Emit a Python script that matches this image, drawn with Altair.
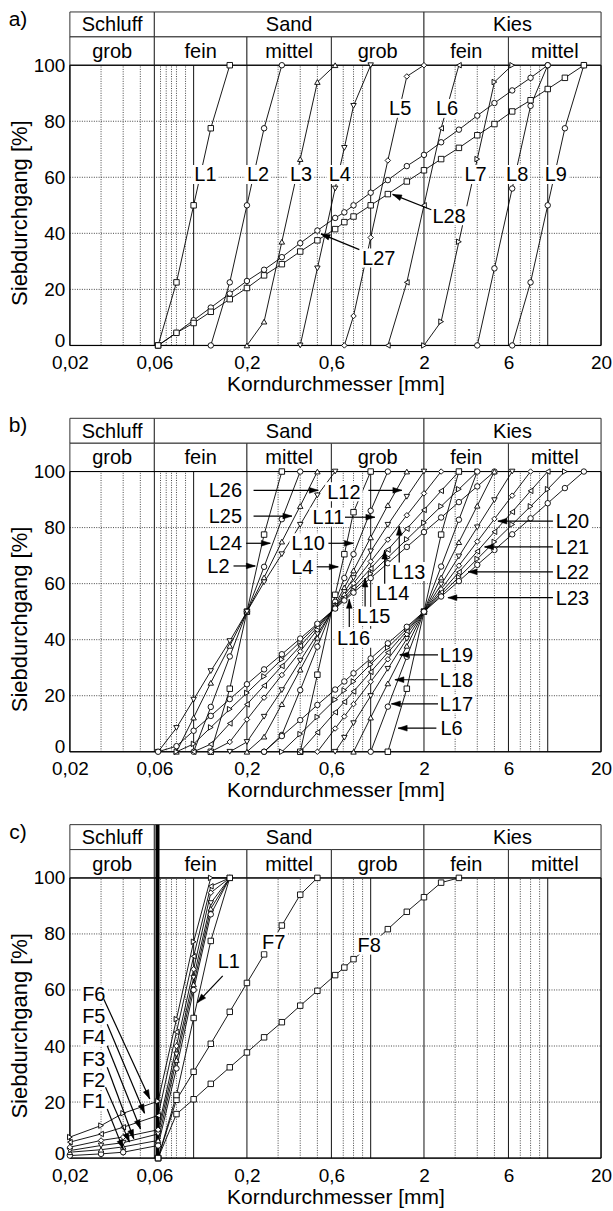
import math
import altair as alt
import pandas as pd

FONT = "Liberation Sans"
W = 532
H = 334
YTOP = 119.0
ROW_SPLIT = 110.1
PX_DEC = W / 3.0
PX_UNIT = H / YTOP

# ---------------- axes / grid ----------------
X_TICKS = [0.02, 0.06, 0.2, 0.6, 2, 6, 20]
Y_TICKS = [0, 20, 40, 60, 80, 100]
GRID_DOTTED = [0.03, 0.04, 0.05, 0.065, 0.07, 0.075, 0.08, 0.09, 0.3, 0.4, 0.5,
               0.7, 0.8, 0.9, 3, 4, 5, 7, 8, 9]
GRID_SOLID = [0.06, 0.1, 0.2, 0.6, 1, 2, 6, 10]
H_GRID = [20, 40, 60, 80]
MAIN_BOUNDS = [0.02, 0.06, 2, 20]
MAIN_NAMES = ["Schluff", "Sand", "Kies"]
SUB_BOUNDS = [0.02, 0.06, 0.2, 0.6, 2, 6, 20]
SUB_NAMES = ["grob", "fein", "mittel", "grob", "fein", "mittel"]

# ---------------- panel a ----------------
A_L1_D = [0.063, 0.08, 0.1, 0.125, 0.16]
A_L1_V = [0, 22.5, 50, 77.5, 100]
A_L2_D = [0.125, 0.16, 0.2, 0.25, 0.315]
A_L2_V = [0, 22.5, 50, 77.5, 100]
A_L3_D = [0.2, 0.25, 0.315, 0.4, 0.5, 0.63]
A_L3_V = [0, 8.5, 37, 66.5, 94, 100]
A_L4_D = [0.4, 0.5, 0.63, 0.71, 0.8, 1.0]
A_L4_V = [0, 27.5, 56, 70.5, 85.5, 100]
A_L5_D = [0.71, 0.8, 1, 1.25, 1.6, 2]
A_L5_V = [0, 10.5, 38.5, 66, 96, 100]
A_L6_D = [1.25, 1.6, 2, 2.5, 3.15]
A_L6_V = [0, 22.5, 50, 77.5, 100]
A_L7_D = [2, 2.5, 3.15, 4, 5, 6.3]
A_L7_V = [0, 8.5, 37, 66.5, 94, 100]
A_L8_D = [4, 5, 6.3, 8, 10]
A_L8_V = [0, 27.5, 56, 85.5, 100]
A_L9_D = [6.3, 8, 10, 12.5, 16]
A_L9_V = [0, 22.5, 50, 77.5, 100]
A_L27_D = [0.063, 0.08, 0.1, 0.125, 0.16, 0.2, 0.25, 0.315, 0.4, 0.5, 0.63, 0.71, 0.8,
           1, 1.25, 1.6, 2, 2.5, 3.15, 4, 5, 6.3, 8, 10]
A_L27_V = [0, 4.5, 9, 13.5, 18.5, 23, 27, 31.5, 36.5, 41, 45.5, 47.5, 50,
           54.5, 59, 64, 68, 72.5, 77, 82, 86.5, 91, 95.5, 100]
A_L28_D = [0.063, 0.08, 0.1, 0.125, 0.16, 0.2, 0.25, 0.315, 0.4, 0.5, 0.63, 0.71, 0.8,
           1, 1.25, 1.6, 2, 2.5, 3.15, 4, 5, 6.3, 8, 10, 12.5, 16]
A_L28_V = [0, 4.5, 8, 12, 16.5, 20.5, 25, 29, 33.5, 37.5, 41.5, 44, 46,
           50, 54, 58.5, 62.5, 66.5, 70.5, 75, 79, 83.5, 87.5, 91.5, 95.5, 100]

A_LAB_T = ["L1", "L2", "L3", "L4", "L5", "L6", "L7", "L8", "L9", "L28", "L27"]
A_LAB_D = [0.1165, 0.231, 0.404, 0.669, 1.468, 2.70, 3.91, 6.72, 11.1, 2.77, 1.11]
A_LAB_V = [61, 61, 61, 61, 84.6, 84.6, 61, 61, 61, 46.3, 31.2]
A_ARR_D0 = [2.2, 0.863]
A_ARR_V0 = [48.4, 34.2]
A_ARR_D1 = [1.33, 0.524]
A_ARR_V1 = [53.9, 39.8]

# ---------------- panel b ----------------
B_L2_D = [0.125, 0.16, 0.2, 0.25, 0.315]
B_L2_V = [0, 22.5, 50, 77.5, 100]
B_L24_D = [0.1, 0.125, 0.16, 0.2, 0.25, 0.315, 0.4]
B_L24_V = [0, 16, 34, 50, 66, 83, 100]
B_L25_D = [0.08, 0.1, 0.125, 0.16, 0.2, 0.25, 0.315, 0.4, 0.5]
B_L25_V = [0, 12.2, 24.6, 37.8, 50, 62.2, 75, 87.7, 100]
B_L26_D = [0.063, 0.08, 0.1, 0.125, 0.16, 0.2, 0.25, 0.315, 0.4, 0.5, 0.63]
B_L26_V = [0, 8.5, 18.6, 28.8, 39.5, 50, 60.5, 70.5, 81, 91.5, 100]

B_L4_D = [0.4, 0.5, 0.63, 0.71, 0.8, 1.0]
B_L4_V = [0, 27.5, 56, 70.5, 85.5, 100]
B_L10_D = [0.25, 0.315, 0.4, 0.5, 0.63, 0.71, 0.8, 1, 1.25]
B_L10_V = [0, 6, 22, 37.5, 53.5, 62, 70.5, 86, 100]
B_L11_D = [0.2, 0.25, 0.315, 0.4, 0.5, 0.63, 0.71, 0.8, 1, 1.25, 1.6]
B_L11_V = [0, 5.4, 17, 29.3, 40.7, 52.5, 58.6, 64.7, 76.5, 88, 100]
B_L12_D = [0.16, 0.2, 0.25, 0.315, 0.4, 0.5, 0.63, 0.71, 0.8, 1, 1.25, 1.6, 2]
B_L12_V = [0, 3.5, 12.5, 22, 32.5, 42, 52, 57, 62, 71.5, 81, 91, 100]
B_L13_D = [0.125, 0.16, 0.2, 0.25, 0.315, 0.4, 0.5, 0.63, 0.71, 0.8, 1, 1.25, 1.6, 2, 2.5]
B_L13_V = [0, 3.5, 11.5, 19.3, 27.4, 35.8, 43.6, 51.7, 55.9, 60.1, 67.9, 75.7, 84.4, 92.2,
           100]
B_L14_D = [0.1, 0.125, 0.16, 0.2, 0.25, 0.315, 0.4, 0.5, 0.63, 0.71, 0.8, 1, 1.25, 1.6,
           2, 2.5, 3.15]
B_L14_V = [0, 2.7, 10.1, 16.9, 23.6, 30.6, 37.8, 44.5, 51.5, 55.1, 58.7, 65.4, 72.1, 79.6,
           86.3, 93.1, 100]
B_L15_D = [0.08, 0.1, 0.125, 0.16, 0.2, 0.25, 0.315, 0.4, 0.5, 0.63, 0.71, 0.8, 1, 1.25,
           1.6, 2, 2.5, 3.15, 4]
B_L15_V = [0, 2.8, 8.7, 15.2, 21, 26.9, 33, 39.3, 45.2, 51.3, 54.4, 57.6, 63.5, 69.3,
           75.8, 81.7, 87.6, 93.7, 100]
B_L16_D = [0.063, 0.08, 0.1, 0.125, 0.16, 0.2, 0.25, 0.315, 0.4, 0.5, 0.63, 0.71, 0.8,
           1, 1.25, 1.6, 2, 2.5, 3.15, 4, 5]
B_L16_V = [0, 2, 7.5, 12.8, 18.8, 24.1, 29.4, 34.8, 40.4, 45.7, 51.1, 54, 56.8,
           62, 67.3, 73.1, 78.4, 83.6, 89.1, 94.7, 100]

B_L6_D = [1.25, 1.6, 2, 2.5, 3.15]
B_L6_V = [0, 22.5, 50, 77.5, 100]
B_L17_D = [1, 1.25, 1.6, 2, 2.5, 3.15, 4]
B_L17_V = [0, 16.1, 33.9, 50, 66.1, 82.8, 100]
B_L18_D = [0.8, 1, 1.25, 1.6, 2, 2.5, 3.15, 4, 5]
B_L18_V = [0, 12.2, 24.4, 37.8, 50, 62.2, 74.8, 87.8, 100]
B_L19_D = [0.63, 0.71, 0.8, 1, 1.25, 1.6, 2, 2.5, 3.15, 4, 5, 6.3]
B_L19_V = [0, 5, 10.2, 19.9, 29.6, 40.3, 50, 59.7, 69.7, 80.1, 89.8, 100]
B_L20_D = [0.5, 0.63, 0.71, 0.8, 1, 1.25, 1.6, 2, 2.5, 3.15, 4, 5, 6.3, 8]
B_L20_V = [0, 8.3, 12.6, 17, 25, 33, 42, 50, 58, 66.4, 75, 83.1, 91.4, 100]
B_L21_D = [0.4, 0.5, 0.63, 0.71, 0.8, 1, 1.25, 1.6, 2, 2.5, 3.15, 4, 5, 6.3, 8, 10]
B_L21_V = [0, 6.9, 14.1, 17.8, 21.5, 28.5, 35.4, 43.1, 50, 56.9, 64.1, 71.5, 78.5, 85.6,
           93.1, 100]
B_L22_D = [0.315, 0.4, 0.5, 0.63, 0.71, 0.8, 1, 1.25, 1.6, 2, 2.5, 3.15, 4, 5, 6.3, 8,
           10, 12.5]
B_L22_V = [0, 6.3, 12.4, 18.6, 21.9, 25.1, 31.2, 37.2, 43.9, 50, 56.1, 62.3, 68.8, 74.9,
           81.1, 87.6, 93.7, 100]
B_L23_D = [0.25, 0.315, 0.4, 0.5, 0.63, 0.71, 0.8, 1, 1.25, 1.6, 2, 2.5, 3.15, 4, 5,
           6.3, 8, 10, 12.5, 16]
B_L23_V = [0, 5.6, 11.3, 16.7, 22.2, 25.1, 28, 33.3, 38.7, 44.6, 50, 55.4, 60.9, 66.7,
           72, 77.6, 83.3, 88.7, 94.1, 100]

B_LAB_T = ["L26", "L25", "L24", "L2", "L12", "L11", "L10", "L4", "L13", "L14", "L15",
           "L16", "L20", "L21", "L22", "L23", "L19", "L18", "L17", "L6"]
B_LAB_D = [0.151, 0.151, 0.151, 0.138, 0.706, 0.577, 0.444, 0.411, 1.64, 1.33, 1.04,
           0.8, 13.8, 13.8, 13.8, 13.8, 3.05, 3.05, 3.05, 2.86]
B_LAB_V = [93.3, 84.1, 74.6, 66.3, 92.8, 83.7, 74.6, 66, 64.3, 56.8, 48.3,
           40.5, 82.3, 73.1, 64.2, 55, 34.6, 25.7, 17.1, 8.4]
B_ARR_D0 = [0.218, 0.218, 0.198, 0.168, 0.97, 0.716, 0.577, 0.496, 1.45, 1.2, 0.93,
            0.757, 10.7, 10.7, 10.7, 10.7, 2.40, 2.40, 2.40, 2.35]
B_ARR_V0 = [93.3, 84.1, 74.4, 66.3, 93.3, 83.7, 74.4, 66, 67.5, 60, 51.8, 44.5,
            82.3, 73.1, 64.2, 55, 34.6, 25.7, 17.1, 8.4]
B_ARR_D1 = [0.506, 0.359, 0.271, 0.223, 1.5, 1.056, 0.798, 0.656, 1.45, 1.2, 0.93,
            0.757, 5.23, 4.4, 3.55, 2.73, 1.46, 1.37, 1.31, 1.43]
B_ARR_V1 = [93.3, 84.1, 74.4, 66.3, 93.3, 83.7, 74.4, 66, 80.5, 72, 62, 54.4,
            82.3, 73.1, 64.2, 55, 34.6, 25.7, 17.1, 8.4]

# ---------------- panel c ----------------
C_F1_D = [0.02, 0.03, 0.04, 0.063, 0.08, 0.1, 0.125, 0.16]
C_F1_V = [0.9, 1.5, 2.1, 4.5, 32, 60, 87, 100]
C_F2_D = [0.02, 0.03, 0.04, 0.063, 0.08, 0.1, 0.125, 0.16]
C_F2_V = [2.1, 3, 4, 6.3, 35, 62, 89, 100]
C_F3_D = [0.02, 0.03, 0.04, 0.063, 0.08, 0.1, 0.125, 0.16]
C_F3_V = [2.7, 4.5, 5.5, 8.6, 37, 64.4, 91, 100]
C_F4_D = [0.02, 0.03, 0.04, 0.063, 0.08, 0.1, 0.125, 0.16]
C_F4_V = [3.9, 6.3, 7.5, 10.1, 40, 67.4, 94.7, 100]
C_F5_D = [0.02, 0.03, 0.04, 0.063, 0.08, 0.1, 0.125, 0.16]
C_F5_V = [5.7, 8.6, 11, 15.2, 45, 72, 97, 100]
C_F6_D = [0.02, 0.03, 0.04, 0.063, 0.08, 0.1, 0.125, 0.16]
C_F6_V = [7.5, 11.6, 16, 20.3, 49.6, 77.2, 100, 100]
C_F7_D = [0.063, 0.08, 0.1, 0.125, 0.16, 0.2, 0.25, 0.315, 0.4, 0.5]
C_F7_V = [0, 20.8, 30.8, 40.8, 52.2, 62.5, 72.7, 83, 94, 100]
C_F8_D = [0.063, 0.08, 0.1, 0.125, 0.16, 0.2, 0.25, 0.315, 0.4, 0.5, 0.63, 0.71, 0.8,
          1, 1.25, 1.6, 2, 2.5, 3.15]
C_F8_V = [0, 15.7, 21, 26.5, 32.4, 37.7, 43.1, 48.5, 54.4, 59.7, 65.3, 68, 71,
          76, 81.7, 87.9, 93.1, 98.3, 100]
C_L1_D = [0.063, 0.08, 0.1, 0.125, 0.16]
C_L1_V = [0, 22.5, 50, 77.5, 100]

C_LAB_T = ["F6", "F5", "F4", "F3", "F2", "F1", "L1", "F7", "F8"]
C_LAB_D = [0.0273, 0.0273, 0.0273, 0.0273, 0.0273, 0.0273, 0.158, 0.283, 0.98]
C_LAB_V = [58.5, 50.8, 43.1, 35.3, 27.9, 20.3, 70.4, 77.2, 76]
C_ARR_D0 = [0.0311, 0.0325, 0.0325, 0.0325, 0.0318, 0.0325, 0.146]
C_ARR_V0 = [56.7, 47.8, 40.1, 32.4, 25.3, 17.5, 65]
C_ARR_D1 = [0.0565, 0.0528, 0.0501, 0.0459, 0.0434, 0.040, 0.105]
C_ARR_V1 = [21.1, 16, 10.4, 6.9, 5.7, 3.3, 55.5]
C_THICK = [0.0625]

# ---------------- helpers ----------------
xs = alt.Scale(type="log", domain=[0.02, 20], nice=False)
ys = alt.Scale(domain=[0, YTOP], nice=False, zero=False)

X_AXIS = alt.Axis(values=X_TICKS, labelExpr="replace(format(datum.value, '~g'), '.', ',')",
                  title="Korndurchmesser [mm]", grid=False, ticks=False, tickSize=0,
                  domain=False, labelFont=FONT, labelFontSize=19, labelPadding=8,
                  labelColor="black", labelFlush=False, labelOverlap=False,
                  titleFont=FONT, titleFontSize=21, titleFontWeight="normal",
                  titleColor="black", titlePadding=1)
Y_AXIS = alt.Axis(values=Y_TICKS, title="Siebdurchgang [%]", grid=False, ticks=False,
                  tickSize=0, domain=False, labelFont=FONT, labelFontSize=19,
                  labelPadding=5, labelColor="black", labelOverlap=False,
                  labelOffset={"condition": {"test": "datum.value === 0", "value": -5},
                               "value": 0},
                  titleFont=FONT, titleFontSize=22, titleFontWeight="normal",
                  titleColor="black", titleX=-50, titleY=201, titleBaseline="middle")


def X(f):
    return alt.X(f, scale=xs, axis=X_AXIS)


def Y(f):
    return alt.Y(f, scale=ys, axis=Y_AXIS)


def grid_layers():
    dots = pd.DataFrame({"d": GRID_DOTTED, "y0": 0, "y1": 100})
    solid = pd.DataFrame({"d": GRID_SOLID, "y0": 0, "y1": 100})
    hg = pd.DataFrame({"v": H_GRID, "x0": 0.02, "x1": 20})
    l1 = alt.Chart(dots).mark_rule(color="#333", strokeWidth=0.9, strokeDash=[1, 1.4]).encode(
        x=X("d:Q"), y=Y("y0:Q"), y2="y1:Q")
    l2 = alt.Chart(solid).mark_rule(color="#111", strokeWidth=1).encode(
        x=X("d:Q"), y=Y("y0:Q"), y2="y1:Q")
    l3 = alt.Chart(hg).mark_rule(color="#333", strokeWidth=0.9, strokeDash=[1, 1.4]).encode(
        x=X("x0:Q"), x2="x1:Q", y=Y("v:Q"))
    return [l1, l2, l3]


def frame_layer():
    df = pd.DataFrame({"x": [0.02], "x2": [20], "y": [0], "y2": [100]})
    return alt.Chart(df).mark_rect(fill="transparent", stroke="black", strokeWidth=1).encode(
        x=X("x:Q"), x2="x2:Q", y=Y("y:Q"), y2="y2:Q")


def header_layers():
    rows = []
    for i, n in enumerate(MAIN_NAMES):
        a, b = MAIN_BOUNDS[i], MAIN_BOUNDS[i + 1]
        rows.append({"a": a, "b": b, "y0": ROW_SPLIT, "y1": YTOP, "t": n,
                     "m": math.sqrt(a * b), "ym": (ROW_SPLIT + YTOP) / 2})
    for i, n in enumerate(SUB_NAMES):
        a, b = SUB_BOUNDS[i], SUB_BOUNDS[i + 1]
        rows.append({"a": a, "b": b, "y0": 100, "y1": ROW_SPLIT, "t": n,
                     "m": math.sqrt(a * b), "ym": (100 + ROW_SPLIT) / 2})
    df = pd.DataFrame(rows)
    boxes = alt.Chart(df).mark_rect(fill="white", stroke="#333", strokeWidth=1).encode(
        x=X("a:Q"), x2="b:Q", y=Y("y0:Q"), y2="y1:Q")
    txt = alt.Chart(df).mark_text(font=FONT, fontSize=20, color="black", baseline="middle",
                                  dy=1).encode(x=X("m:Q"), y=Y("ym:Q"), text="t:N")
    return [boxes, txt]


def series_layers(series):
    rows = []
    for name, shape, ds, vs in series:
        for d, v in zip(ds, vs):
            rows.append({"s": name, "shape": shape, "d": d, "v": v})
    df = pd.DataFrame(rows)
    line = alt.Chart(df).mark_line(color="black", strokeWidth=0.9).encode(
        x=X("d:Q"), y=Y("v:Q"), detail="s:N")
    pts = alt.Chart(df).mark_point(filled=True, fill="white", stroke="black", strokeWidth=0.9,
                                   size=30, opacity=1).encode(
        x=X("d:Q"), y=Y("v:Q"), shape=alt.Shape("shape:N", scale=None))
    return [line, pts]


def label_layers(texts, ds, vs, a_d0, a_v0, a_d1, a_v1):
    rows = []
    for t, d, v in zip(texts, ds, vs):
        w = len(t) * 11.2 + 4
        h = 19.0
        r = h / w
        rows.append({"t": t, "d": d, "v": v, "sz": w * w,
                     "path": f"M-1,{-r:.3f}H1V{r:.3f}H-1Z"})
    df = pd.DataFrame(rows)
    arows = []
    for d0, v0, d1, v1 in zip(a_d0, a_v0, a_d1, a_v1):
        dx = PX_DEC * math.log10(d1 / d0)
        dy = -PX_UNIT * (v1 - v0)
        ang = math.degrees(math.atan2(dx, -dy)) % 360
        arows.append({"d0": d0, "v0": v0, "d1": d1, "v1": v1, "ang": ang})
    adf = pd.DataFrame(arows)
    box = alt.Chart(df).mark_point(filled=True, fill="white", strokeWidth=0, opacity=1).encode(
        x=X("d:Q"), y=Y("v:Q"), shape=alt.Shape("path:N", scale=None),
        size=alt.Size("sz:Q", scale=None))
    rule = alt.Chart(adf).mark_rule(color="black", strokeWidth=1.2).encode(
        x=X("d0:Q"), y=Y("v0:Q"), x2="d1:Q", y2="v1:Q")
    head = alt.Chart(adf).mark_point(filled=True, fill="black", stroke="black", strokeWidth=0.5,
                                     shape="M0,0L-0.32,1L0.32,1Z", size=324, opacity=1).encode(
        x=X("d1:Q"), y=Y("v1:Q"), angle=alt.Angle("ang:Q", scale=None))
    txt = alt.Chart(df).mark_text(font=FONT, fontSize=20, color="black", baseline="middle",
                                  dy=1).encode(x=X("d:Q"), y=Y("v:Q"), text="t:N")
    return [box, rule, head, txt]


def letter_layer(letter, anchor=False):
    df = pd.DataFrame({"t": [letter]})
    layers = [alt.Chart(df).mark_text(font=FONT, fontSize=21, color="black", align="center",
                                      baseline="middle").encode(
        x=alt.value(-52), y=alt.value(8), text="t:N")]
    if anchor:
        layers.append(alt.Chart(df).mark_point(size=1, opacity=0).encode(
            x=alt.value(-69), y=alt.value(-10)))
    return layers


def panel(series, labs, letter, extra=None, anchor=False):
    layers = [frame_layer()] + grid_layers()
    layers += header_layers()
    if extra is not None:
        layers += extra
    layers.append(frame_layer())
    layers += series_layers(series)
    layers += label_layers(*labs)
    layers += letter_layer(letter, anchor)
    return alt.layer(*layers).properties(width=W, height=H)


A_SERIES = [
    ("L1", "square", A_L1_D, A_L1_V), ("L2", "circle", A_L2_D, A_L2_V),
    ("L3", "triangle-up", A_L3_D, A_L3_V), ("L4", "triangle-down", A_L4_D, A_L4_V),
    ("L5", "diamond", A_L5_D, A_L5_V), ("L6", "triangle-left", A_L6_D, A_L6_V),
    ("L7", "triangle-right", A_L7_D, A_L7_V), ("L8", "circle", A_L8_D, A_L8_V),
    ("L9", "circle", A_L9_D, A_L9_V), ("L27", "circle", A_L27_D, A_L27_V),
    ("L28", "square", A_L28_D, A_L28_V),
]
B_SERIES = [
    ("L2", "square", B_L2_D, B_L2_V), ("L24", "circle", B_L24_D, B_L24_V),
    ("L25", "triangle-up", B_L25_D, B_L25_V), ("L26", "triangle-down", B_L26_D, B_L26_V),
    ("L4", "square", B_L4_D, B_L4_V), ("L10", "circle", B_L10_D, B_L10_V),
    ("L11", "triangle-up", B_L11_D, B_L11_V), ("L12", "triangle-down", B_L12_D, B_L12_V),
    ("L13", "diamond", B_L13_D, B_L13_V), ("L14", "triangle-left", B_L14_D, B_L14_V),
    ("L15", "triangle-right", B_L15_D, B_L15_V), ("L16", "circle", B_L16_D, B_L16_V),
    ("L6", "square", B_L6_D, B_L6_V), ("L17", "circle", B_L17_D, B_L17_V),
    ("L18", "triangle-up", B_L18_D, B_L18_V), ("L19", "triangle-down", B_L19_D, B_L19_V),
    ("L20", "diamond", B_L20_D, B_L20_V), ("L21", "triangle-left", B_L21_D, B_L21_V),
    ("L22", "triangle-right", B_L22_D, B_L22_V), ("L23", "circle", B_L23_D, B_L23_V),
]
C_SERIES = [
    ("F1", "circle", C_F1_D, C_F1_V), ("F2", "triangle-up", C_F2_D, C_F2_V),
    ("F3", "triangle-down", C_F3_D, C_F3_V), ("F4", "diamond", C_F4_D, C_F4_V),
    ("F5", "triangle-left", C_F5_D, C_F5_V), ("F6", "triangle-right", C_F6_D, C_F6_V),
    ("F7", "square", C_F7_D, C_F7_V), ("F8", "square", C_F8_D, C_F8_V),
    ("L1", "square", C_L1_D, C_L1_V),
]

thick_df = pd.DataFrame({"d": C_THICK, "y0": 0, "y1": YTOP})
thick = alt.Chart(thick_df).mark_rule(color="black", strokeWidth=4).encode(
    x=X("d:Q"), y=Y("y0:Q"), y2="y1:Q")

pa = panel(A_SERIES, (A_LAB_T, A_LAB_D, A_LAB_V, A_ARR_D0, A_ARR_V0, A_ARR_D1, A_ARR_V1),
           "a)", anchor=True)
pb = panel(B_SERIES, (B_LAB_T, B_LAB_D, B_LAB_V, B_ARR_D0, B_ARR_V0, B_ARR_D1, B_ARR_V1),
           "b)")
pc = panel(C_SERIES, (C_LAB_T, C_LAB_D, C_LAB_V, C_ARR_D0, C_ARR_V0, C_ARR_D1, C_ARR_V1),
           "c)", extra=[thick])

chart = alt.vconcat(pa, pb, pc, spacing=73, bounds="flush").properties(
    padding=0
).configure_view(stroke=None).configure(font=FONT)

chart.save("out.html", embed_options={"renderer": "svg", "actions": False})
